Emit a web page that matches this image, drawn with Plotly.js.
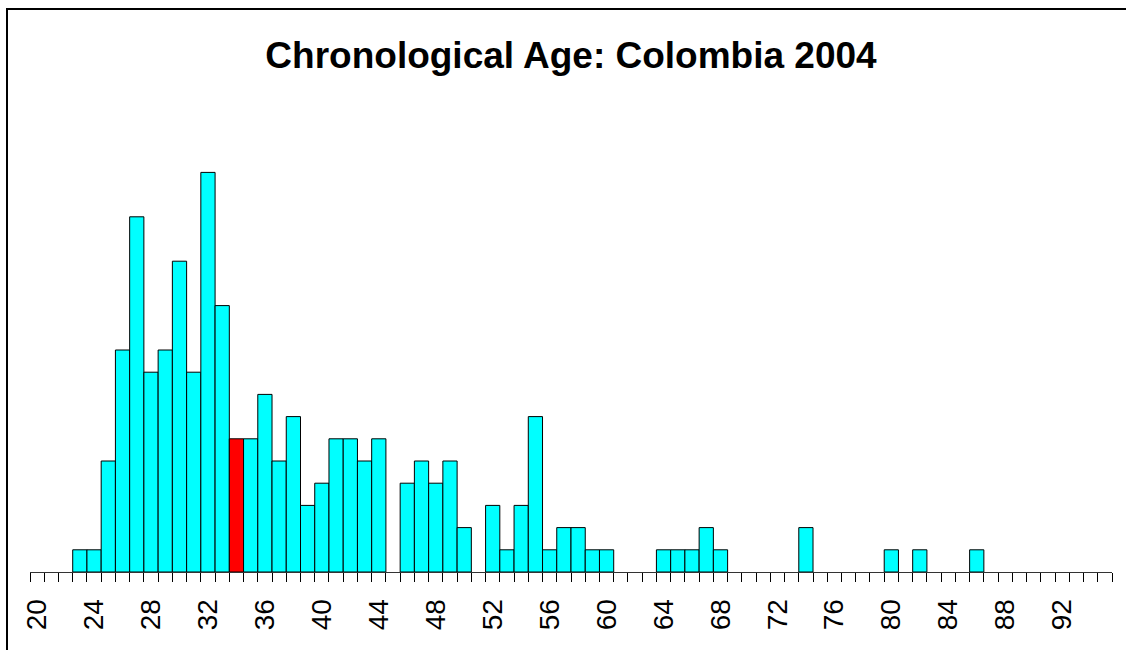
<!DOCTYPE html>
<html>
<head>
<meta charset="utf-8">
<script src="https://cdn.plot.ly/plotly-3.0.1.min.js"></script>
<style>
  html, body { margin: 0; padding: 0; width: 1126px; height: 650px; overflow: hidden; background: #fff; }
  #chart { position: absolute; left: 0; top: 0; width: 1126px; height: 650px; }
  #frame { position: absolute; left: 6px; top: 8px; width: 3000px; height: 3000px;
           border-left: 2px solid #000; border-top: 2px solid #000; pointer-events: none; }
</style>
</head>
<body>
<div id="chart"></div>
<div id="frame"></div>
<script>
// Age (years) and number of people in each one-year bin
const ages   = [23, 24, 25, 26, 27, 28, 29, 30, 31, 32, 33, 34, 35, 36, 37, 38, 39, 40, 41, 42, 43, 44,
                46, 47, 48, 49, 50, 52, 53, 54, 55, 56, 57, 58, 59, 60, 64, 65, 66, 67, 68, 74, 80, 82, 86];
const counts = [ 1,  1,  5, 10, 16,  9, 10, 14,  9, 18, 12,  6,  6,  8,  5,  7,  3,  4,  6,  6,  5,  6,
                 4,  5,  4,  5,  2,  3,  1,  3,  7,  1,  2,  2,  1,  1,  1,  1,  1,  2,  1,  2,  1,  1,  1];
const highlightAge = 34;
const tickLabels = [20, 24, 28, 32, 36, 40, 44, 48, 52, 56, 60, 64, 68, 72, 76, 80, 84, 88, 92];
const axisStart = 20, axisEnd = 96;
const chartTitle = "Chronological Age: Colombia 2004";

const colors = ages.map(a => a === highlightAge ? "#FF0000" : "#00FFFF");

const trace = {
  type: "bar",
  x: ages,
  y: counts,
  width: ages.map(() => 1),
  offset: 0,
  marker: { color: colors, line: { color: "#000000", width: 1 } },
  hoverinfo: "x+y"
};

const layout = {
  width: 1126,
  height: 650,
  margin: { l: 30, r: 14, t: 128, b: 78, pad: 0 },
  paper_bgcolor: "#ffffff",
  plot_bgcolor: "#ffffff",
  showlegend: false,
  bargap: 0,
  title: {
    text: "<b>" + chartTitle + "</b>",
    font: { family: "Liberation Sans, Arial, sans-serif", size: 37, color: "#000" },
    x: 0.5, xref: "paper", xanchor: "center",
    y: 1 - 55 / 650, yref: "container", yanchor: "middle"
  },
  xaxis: {
    range: [axisStart, axisEnd],
    showgrid: false,
    zeroline: false,
    showline: true,
    linecolor: "#333333",
    linewidth: 1,
    tickmode: "array",
    tickvals: tickLabels.map(v => v + 0.5),
    ticktext: tickLabels.map(String),
    ticks: "",
    tickangle: -90,
    ticklabelstandoff: 15,
    tickfont: { family: "Liberation Sans, Arial, sans-serif", size: 28, color: "#000" },
    minor: { tickmode: "linear", tick0: axisStart, dtick: 1, ticks: "outside", ticklen: 9, tickwidth: 1, tickcolor: "#000", showgrid: false }
  },
  yaxis: {
    range: [0, 20],
    visible: false,
    fixedrange: true
  }
};

Plotly.newPlot("chart", [trace], layout, { displayModeBar: false, staticPlot: true });
</script>
</body>
</html>
